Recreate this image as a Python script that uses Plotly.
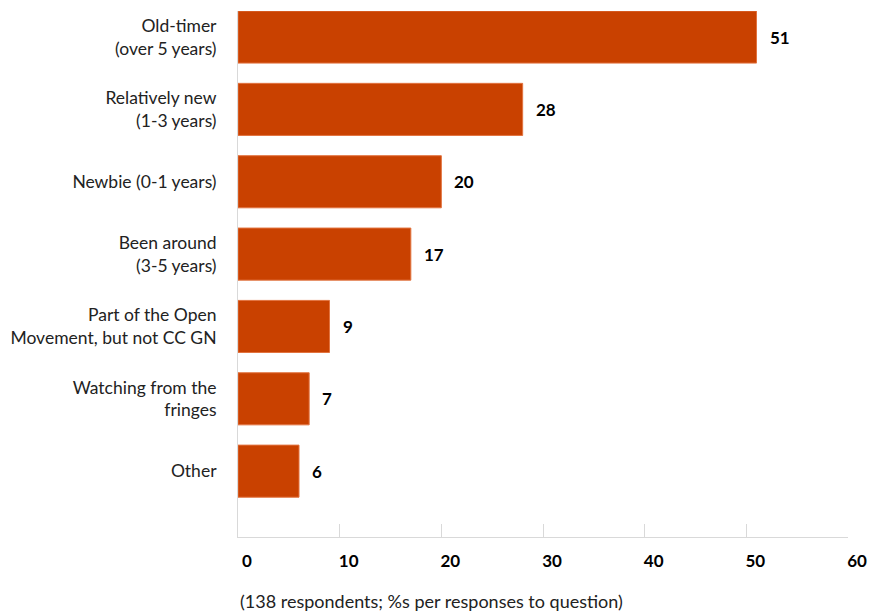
import plotly.graph_objects as go

categories = [
    "Old-timer<br>(over 5 years)",
    "Relatively new<br>(1-3 years)",
    "Newbie (0-1 years)",
    "Been around<br>(3-5 years)",
    "Part of the Open<br>Movement, but not CC GN",
    "Watching from the<br>fringes",
    "Other",
]
values = [51, 28, 20, 17, 9, 7, 6]
x_ticks = [0, 10, 20, 30, 40, 50, 60]
footnote = "(138 respondents; %s per responses to question)"

FONT = "Lato"
fig = go.Figure()
fig.add_trace(go.Bar(
    x=values, y=categories, orientation="h",
    marker=dict(color="#c94100", line=dict(color="#e2733f", width=1)),
    width=0.72, hoverinfo="skip",
))
for c, v in zip(categories, values):
    fig.add_annotation(x=v, y=c, text=f"<b>{v}</b>", showarrow=False,
                       xanchor="left", yanchor="middle", xshift=11,
                       font=dict(family=FONT, size=17, color="#000"))
fig.add_annotation(xref="paper", yref="paper", x=0, y=-0.122, text=footnote,
                   showarrow=False, xanchor="left", yanchor="middle",
                   font=dict(family=FONT, size=18, color="#222"))

fig.update_layout(
    width=870, height=611,
    margin=dict(l=238, r=22, t=11, b=74, autoexpand=False),
    plot_bgcolor="white", paper_bgcolor="white",
    showlegend=False,
    font=dict(family=FONT, size=17, color="#222"),
    xaxis=dict(range=[0, 60], tickvals=x_ticks, showgrid=False, zeroline=False,
               automargin=False,
               showline=True, linecolor="#d9d9d9", linewidth=1,
               ticks="inside", ticklen=13, tickcolor="#d9d9d9", tickwidth=1,
               tickfont=dict(family=FONT, size=17, color="#000", weight="bold"),
               ticklabelstandoff=9, ticklabelshift=9),
    yaxis=dict(type="category", range=[6.91, -0.36], showgrid=False, zeroline=False,
               automargin=False,
               showline=True, linecolor="#d9d9d9", linewidth=1, ticks="",
               ticklabelstandoff=17,
               tickfont=dict(family=FONT, size=17.5, color="#222")),
)
fig.write_html("out.html")
